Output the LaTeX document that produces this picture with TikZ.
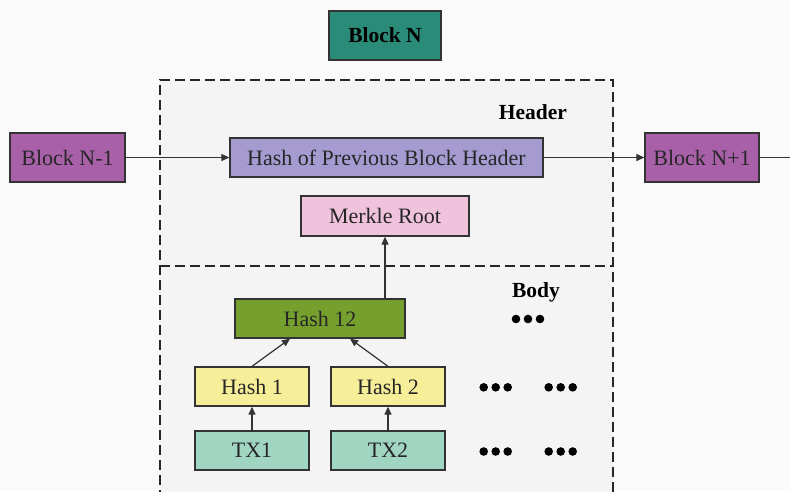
\documentclass[tikz,border=0pt]{standalone}
\usepackage{fontspec}
\setmainfont{Liberation Serif}
\usetikzlibrary{arrows.meta}
\definecolor{bgout}{HTML}{FAFAFA}
\definecolor{bgin}{HTML}{F4F4F4}
\definecolor{edge}{HTML}{333333}
\definecolor{tealblk}{HTML}{2A8C78}
\definecolor{purpblk}{HTML}{A860A8}
\definecolor{lavhash}{HTML}{A59BD0}
\definecolor{pinkroot}{HTML}{F0C3DC}
\definecolor{greenhash}{HTML}{76A02E}
\definecolor{yellhash}{HTML}{F7EE9A}
\definecolor{minttx}{HTML}{A0D5C2}
\begin{document}
\begin{tikzpicture}[x=1pt,y=-1pt,
  cell/.style={draw=edge, line width=1.3pt, inner sep=0pt, rectangle,
    font=\fontsize{22}{25}\selectfont, text=black!85},
  frame/.style={draw=black!85, line width=2.4pt, dash pattern=on 10pt off 5pt},
  link/.style={draw=edge, line width=1.2pt, -{Triangle[length=8pt,width=7pt]}},
  tag/.style={font=\bfseries\fontsize{21.5}{24}\selectfont, text=black, inner sep=0pt},
  dot/.style={fill=black, draw=none}]
\useasboundingbox (0,0) rectangle (790,491);
\clip (0,0) rectangle (790,491);
\fill[bgout] (0,0) rectangle (790,491);
% block container with header / body split
\fill[bgin] (160,80) rectangle (613,500);
\draw[frame] (160,500) -- (160,80) -- (613,80) -- (613,500);
\draw[frame] (160,266) -- (613,266);

\node[cell, fill=tealblk, minimum width=112pt, minimum height=49pt, font=\bfseries\fontsize{21.5}{24}\selectfont, text=black] (bn) at (385,35.5) {Block N};
\node[cell, fill=purpblk, minimum width=115pt, minimum height=49pt] (bprev) at (67.5,157.5) {Block N-1};
\node[cell, fill=lavhash, minimum width=313pt, minimum height=39pt] (hprev) at (386.5,157.5) {Hash of Previous Block Header};
\node[cell, fill=purpblk, minimum width=114pt, minimum height=49pt] (bnext) at (702,157.5) {Block N+1};
\node[cell, fill=pinkroot, minimum width=168pt, minimum height=40pt] (mroot) at (385,216) {Merkle Root};
\node[cell, fill=greenhash, minimum width=170pt, minimum height=39pt] (h12) at (320,318.5) {Hash 12};
\node[cell, fill=yellhash, minimum width=114pt, minimum height=39pt] (h1) at (252,386.5) {Hash 1};
\node[cell, fill=yellhash, minimum width=114pt, minimum height=39pt] (h2) at (388,386.5) {Hash 2};
\node[cell, fill=minttx, minimum width=114pt, minimum height=39pt] (tx1) at (252,450.5) {TX1};
\node[cell, fill=minttx, minimum width=114pt, minimum height=39pt] (tx2) at (388,450.5) {TX2};

\node[tag] (hdr) at (533,112) {Header};
\node[tag] (bdy) at (536,292) {Body};

\coordinate (chainend) at (792,157.5);

\draw[link] (bprev.east) -- (hprev.west);
\draw[link] (hprev.east) -- (bnext.west);
\draw[draw=edge, line width=1.2pt] (bnext.east) -- (chainend);
\draw[link] (h12.north -| mroot.south) -- (mroot.south);
\draw[link] (h1.north) -- ([xshift=-30pt]h12.south);
\draw[link] (h2.north) -- ([xshift=30pt]h12.south);
\draw[link] (tx1.north) -- (h1.south);
\draw[link] (tx2.north) -- (h2.south);

% ellipsis marks
\foreach \cx/\cy in {528/319, 495.7/387.3, 560.7/387.3, 495.7/451.5, 560.7/451.5}{
  \foreach \k in {-12,0,12}{
    \fill[dot] (\cx+\k,\cy) circle (4.3pt);
  }
}
\end{tikzpicture}
\end{document}
